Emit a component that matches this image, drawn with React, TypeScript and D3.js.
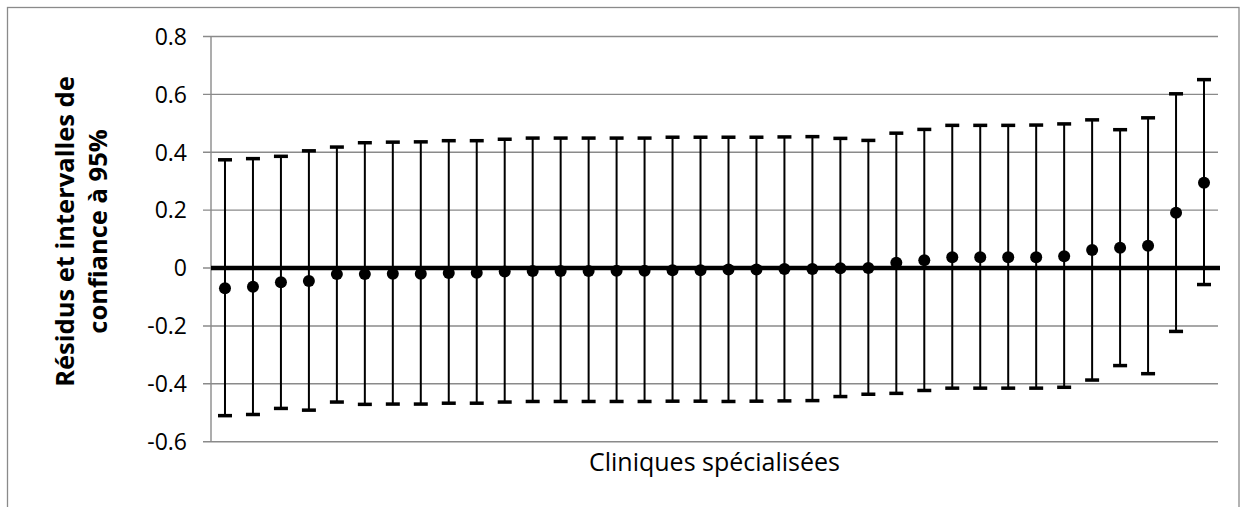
import React from "react";
import * as d3 from "d3";

// Residuals per specialised clinic, sorted ascending, with 95% CI bounds
const residuals = [
  -0.070, -0.065, -0.049, -0.045, -0.021, -0.021, -0.020, -0.020, -0.017,
  -0.016, -0.012, -0.010, -0.010, -0.010, -0.009, -0.009, -0.008, -0.008,
  -0.005, -0.005, -0.003, -0.003, -0.001, 0.000, 0.018, 0.027, 0.037,
  0.037, 0.037, 0.037, 0.041, 0.062, 0.070, 0.077, 0.191, 0.295,
];
const upperCI = [
  0.374, 0.378, 0.386, 0.405, 0.418, 0.433, 0.435, 0.436, 0.440,
  0.440, 0.445, 0.449, 0.449, 0.449, 0.449, 0.449, 0.452, 0.452,
  0.452, 0.452, 0.453, 0.454, 0.448, 0.441, 0.466, 0.479, 0.493,
  0.493, 0.493, 0.494, 0.498, 0.512, 0.478, 0.519, 0.602, 0.651,
];
const lowerCI = [
  -0.510, -0.506, -0.485, -0.491, -0.463, -0.471, -0.470, -0.470, -0.467,
  -0.467, -0.463, -0.461, -0.461, -0.461, -0.461, -0.461, -0.460, -0.460,
  -0.461, -0.460, -0.459, -0.458, -0.444, -0.436, -0.433, -0.423, -0.415,
  -0.415, -0.415, -0.415, -0.412, -0.387, -0.337, -0.365, -0.219, -0.057,
];
const clinics = residuals.map((_, i) => `C${i + 1}`);
const yTicks = [-0.6, -0.4, -0.2, 0, 0.2, 0.4, 0.6, 0.8];
const yTitleLines = ["Résidus et intervalles de", "confiance à 95%"];
const xTitle = "Cliniques spécialisées";

const W = 1247;
const H = 507;
const plot = { left: 211, right: 1218, top: 36.5, bottom: 441.7 };
const FONT = "'Open Sans', 'Noto Sans', sans-serif";
const GRID = "#8a8a8a";

export default function App() {
  const x = d3
    .scaleBand<string>()
    .domain(clinics)
    .range([plot.left, plot.right])
    .padding(0);
  const y = d3.scaleLinear().domain([-0.6, 0.8]).range([plot.bottom, plot.top]);
  const cx = (c: string) => (x(c) ?? 0) + x.bandwidth() / 2;
  const capHalf = 7;

  return (
    <svg
      width={W}
      height={H}
      style={{ position: "absolute", left: 0, top: 0, background: "#fff" }}
      fontFamily={FONT}
    >
      <rect x={0} y={0} width={W} height={H} fill="#fff" />
      {/* chart frame */}
      <rect
        x={7.5}
        y={7.5}
        width={1231.5}
        height={540}
        fill="none"
        stroke={GRID}
        strokeWidth={1.3}
      />

      {/* gridlines with outer tick marks */}
      {yTicks.map((t) => (
        <line
          key={`g${t}`}
          x1={plot.left - 8}
          x2={plot.right}
          y1={y(t)}
          y2={y(t)}
          stroke={GRID}
          strokeWidth={1.4}
        />
      ))}
      {/* value axis */}
      <line
        x1={plot.left}
        x2={plot.left}
        y1={plot.top}
        y2={plot.bottom}
        stroke={GRID}
        strokeWidth={1.4}
      />
      {yTicks.map((t) => (
        <text
          key={`t${t}`}
          x={187}
          y={y(t)}
          dy="0.36em"
          textAnchor="end"
          fontSize={23}
          fill="#000"
        >
          {String(t)}
        </text>
      ))}

      {/* confidence intervals */}
      {clinics.map((c, i) => (
        <g key={`e${c}`} stroke="#000">
          <line
            x1={cx(c)}
            x2={cx(c)}
            y1={y(lowerCI[i])}
            y2={y(upperCI[i])}
            strokeWidth={2}
          />
          <line
            x1={cx(c) - capHalf}
            x2={cx(c) + capHalf}
            y1={y(upperCI[i])}
            y2={y(upperCI[i])}
            strokeWidth={3.5}
          />
          <line
            x1={cx(c) - capHalf}
            x2={cx(c) + capHalf}
            y1={y(lowerCI[i])}
            y2={y(lowerCI[i])}
            strokeWidth={3.5}
          />
        </g>
      ))}

      {/* zero reference line */}
      <line
        x1={plot.left}
        x2={plot.right + 2}
        y1={y(0)}
        y2={y(0)}
        stroke="#000"
        strokeWidth={4.5}
      />

      {/* residual points */}
      {clinics.map((c, i) => (
        <circle key={`p${c}`} cx={cx(c)} cy={y(residuals[i])} r={6} fill="#000" />
      ))}

      {/* axis titles */}
      {yTitleLines.map((line, i) => (
        <text
          key={line}
          transform={`translate(${74 + i * 33},231.5) rotate(-90)`}
          textAnchor="middle"
          fontSize={25.5}
          fontWeight="bold"
          fill="#000"
        >
          {line}
        </text>
      ))}
      <text
        x={(plot.left + plot.right) / 2}
        y={471}
        textAnchor="middle"
        fontSize={25}
        fill="#000"
      >
        {xTitle}
      </text>
    </svg>
  );
}
